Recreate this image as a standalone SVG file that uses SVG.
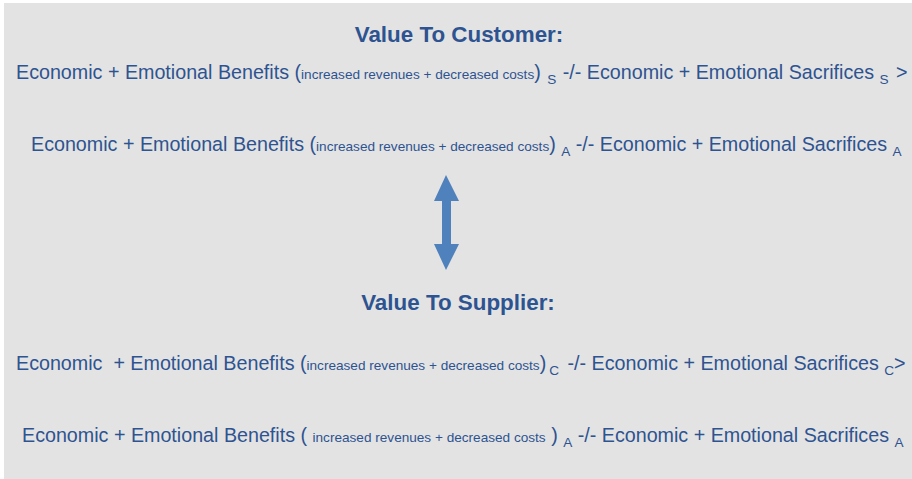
<svg xmlns="http://www.w3.org/2000/svg" width="912" height="479" viewBox="0 0 912 479">
<style>
.t{font-family:"Liberation Sans",Arial,sans-serif;fill:#2e5391;font-size:19.7px}
.h{font-family:"Liberation Sans",Arial,sans-serif;fill:#2e5391;font-size:22.4px;font-weight:bold}
.s{font-size:13.6px}
.sub{font-size:13.6px}
</style>
<rect x="0" y="0" width="912" height="479" fill="#ffffff"/>
<rect x="4" y="3" width="908" height="476" fill="#e3e3e3"/>
<g id="title-customer"><text class="h" x="459" y="42" text-anchor="middle">Value To Customer:</text></g>
<g id="line-customer-s"><text class="t" x="16" y="79">Economic + Emotional Benefits (<tspan class="s">increased revenues + decreased costs</tspan>) <tspan class="sub" dy="5" dx="1">S</tspan><tspan dy="-5" dx="1"> -/- Economic + Emotional Sacrifices </tspan><tspan class="sub" dy="5">S</tspan><tspan dy="-5" dx="2"> &gt;</tspan></text></g>
<g id="line-customer-a"><text class="t" x="31" y="151">Economic + Emotional Benefits (<tspan class="s">increased revenues + decreased costs</tspan>) <tspan class="sub" dy="5">A</tspan><tspan dy="-5"> -/- Economic + Emotional Sacrifices </tspan><tspan class="sub" dy="5">A</tspan></text></g>
<g id="connectors"><polygon points="446,175 459,201 451,201 451,244 459,244 446,270 434,244 442,244 442,201 434,201" fill="#4f81bd"/></g>
<g id="title-supplier"><text class="h" x="458" y="310" text-anchor="middle">Value To Supplier:</text></g>
<g id="line-supplier-c"><text class="t" x="16" y="370" xml:space="preserve">Economic  + Emotional Benefits (<tspan class="s">increased revenues + decreased costs</tspan>)<tspan class="sub" dy="5" dx="3">C</tspan><tspan dy="-5" dx="3"> -/- Economic + Emotional Sacrifices </tspan><tspan class="sub" dy="5">C</tspan><tspan dy="-5">&gt;</tspan></text></g>
<g id="line-supplier-a"><text class="t" x="22" y="442">Economic + Emotional Benefits ( <tspan class="s">increased revenues + decreased costs</tspan>  ) <tspan class="sub" dy="5">A</tspan><tspan dy="-5"> -/- Economic + Emotional Sacrifices </tspan><tspan class="sub" dy="5">A</tspan></text></g>
</svg>
